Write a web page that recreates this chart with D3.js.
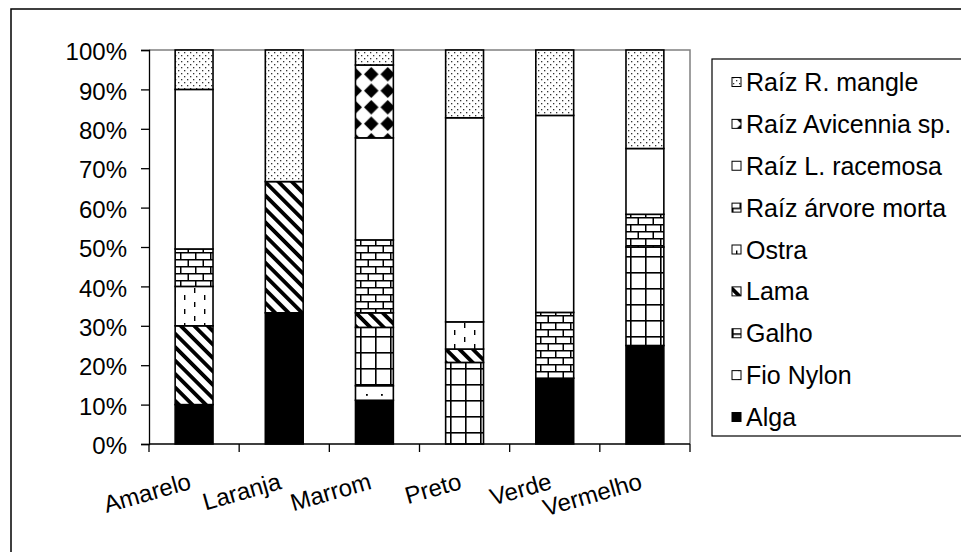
<!DOCTYPE html>
<html><head><meta charset="utf-8">
<script src="https://cdn.jsdelivr.net/npm/d3@7/dist/d3.min.js"></script>
<style>body{margin:0;background:#fff}svg{display:block}text{font-family:"Liberation Sans",Arial,sans-serif;fill:#000}</style>
</head><body><svg id="c" width="961" height="552"></svg>
<script>
const categories = ["Amarelo","Laranja","Marrom","Preto","Verde","Vermelho"];
const seriesNames = ["Alga","Fio Nylon","Galho","Lama","Ostra","Raíz árvore morta","Raíz L. racemosa","Raíz Avicennia sp.","Raíz R. mangle"];
const alga        = [10, 33.3, 11.1, 0, 16.7, 25];
const fioNylon    = [0, 0, 3.7, 0, 0, 0];
const galho       = [0, 0, 14.8, 20.7, 0, 25];
const lama        = [20, 33.3, 3.7, 3.4, 0, 0];
const ostra       = [10, 0, 0, 6.9, 0, 0];
const arvoreMorta = [9.5, 0, 18.5, 0, 16.7, 8.3];
const racemosa    = [40.5, 0, 25.9, 51.8, 50, 16.7];
const avicennia   = [0, 0, 18.5, 0, 0, 0];
const mangle      = [10, 33.4, 3.8, 17.2, 16.6, 25];
const yTicks = [0,10,20,30,40,50,60,70,80,90,100];

const seriesValues = [alga,fioNylon,galho,lama,ostra,arvoreMorta,racemosa,avicennia,mangle];
const rows = categories.map((c,i)=>{const r={cat:c};seriesNames.forEach((s,j)=>r[s]=seriesValues[j][i]);return r;});
const stack = d3.stack().keys(seriesNames)(rows);

const svg = d3.select("#c");
const defs = svg.append("defs");
function pat(id,w,h,build,tr){const p=defs.append("pattern").attr("id",id).attr("patternUnits","userSpaceOnUse").attr("width",w).attr("height",h);if(tr)p.attr("patternTransform",tr);p.append("rect").attr("width",w).attr("height",h).attr("fill","#fff");build(p);}
function r(p,x,y,w,h,c){p.append("rect").attr("x",x).attr("y",y).attr("width",w).attr("height",h).attr("fill",c||"#000");}
pat("p1",15,10,p=>r(p,6,4,1.8,1.8));
pat("p2",15,16,p=>{r(p,0,0,15,1.6);r(p,0,0,1.6,16);});
pat("p3",9.5,10,p=>r(p,0,0,3.8,10),"rotate(-45)");
pat("p4",20,14,p=>{r(p,4,1,1.4,5);r(p,14,8,1.4,5);});
pat("p5",15,14,p=>{r(p,0,0,15,1.5);r(p,0,7,15,1.5);r(p,0,0,1.5,7);r(p,7.5,7,1.5,7);});
pat("p7",16.5,16.5,p=>{p.append("path").attr("d","M8.25,1 L15.5,8.25 L8.25,15.5 L1,8.25Z").attr("fill","#000");});
pat("p8",6,6,p=>{r(p,1,1,1.3,1.3,"#333");r(p,4,4,1.3,1.3,"#333");});
const fills = ["#000","url(#p1)","url(#p2)","url(#p3)","url(#p4)","url(#p5)","#fff","url(#p7)","url(#p8)"];

// outer border
svg.append("rect").attr("x",11).attr("y",9).attr("width",1000).attr("height",600).attr("fill","none").attr("stroke","#000").attr("stroke-width",1.5);

const x = d3.scaleBand().domain(categories).range([149,690]).paddingInner(0.58).paddingOuter(0.29);
const y = d3.scaleLinear().domain([0,100]).range([444,50]);

svg.append("path").attr("d",`M149,50H690V444`).attr("fill","none").attr("stroke","#808080").attr("stroke-width",1.5);

svg.append("g").selectAll("g").data(stack).join("g").attr("fill",(d,i)=>fills[i])
 .selectAll("rect").data(d=>d.filter(e=>e[1]-e[0]>0)).join("rect")
 .attr("x",d=>x(d.data.cat)).attr("width",x.bandwidth())
 .attr("y",d=>y(d[1])).attr("height",d=>y(d[0])-y(d[1]))
 .attr("stroke","#000").attr("stroke-width",1.6);

const yAxis = svg.append("g").attr("transform","translate(149,0)").call(d3.axisLeft(y).tickValues(yTicks).tickFormat(d=>d+"%").tickSize(8).tickPadding(14));
yAxis.select(".domain").attr("stroke","#000").attr("stroke-width",1.3);
yAxis.selectAll(".tick line").attr("stroke","#000").attr("stroke-width",1.3);
yAxis.selectAll("text").style("font-size","24px").attr("fill","#000").attr("dy","0.4em");

const xAxis = svg.append("g").attr("transform","translate(0,444)");
xAxis.append("line").attr("x1",149).attr("x2",690).attr("stroke","#000").attr("stroke-width",1.3);
const step = x.step();
xAxis.selectAll("line.t").data(d3.range(categories.length+1)).join("line").attr("class","t")
 .attr("x1",i=>149+i*step).attr("x2",i=>149+i*step).attr("y1",0).attr("y2",8).attr("stroke","#000").attr("stroke-width",1.3);
xAxis.selectAll("text").data(categories).join("text")
 .attr("transform",d=>`translate(${x(d)+x.bandwidth()/2-7},26) rotate(-16)`)
 .attr("text-anchor","end").attr("dy","0.8em").style("font-size","24px").text(d=>d);

// legend
const lg = svg.append("g");
lg.append("rect").attr("x",712).attr("y",59).attr("width",300).attr("height",377).attr("fill","#fff").attr("stroke","#000").attr("stroke-width",1.2);
const legendOrder = seriesNames.slice().reverse();
const ly = d3.scalePoint().domain(legendOrder).range([82,417]);
const items = lg.selectAll("g.i").data(legendOrder).join("g").attr("class","i").attr("transform",d=>`translate(732,${ly(d)})`);
items.append("rect").attr("x",0).attr("y",-4.5).attr("width",9).attr("height",9).attr("fill",d=>fills[seriesNames.indexOf(d)]).attr("stroke","#000").attr("stroke-width",1);
items.append("text").attr("x",14).attr("y",0).attr("dy","0.36em").style("font-size","25px").text(d=>d);
</script></body></html>
